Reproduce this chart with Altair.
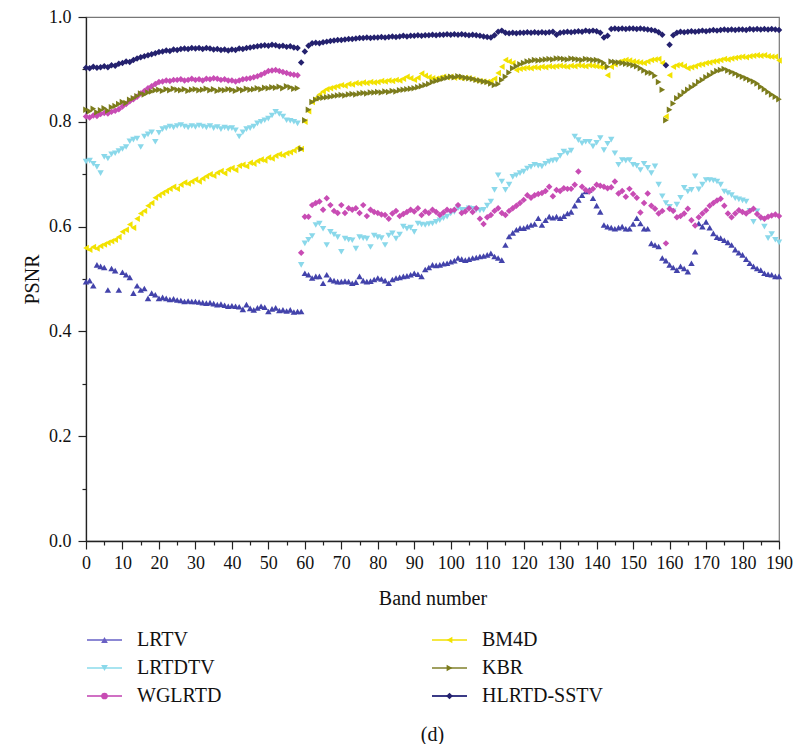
import altair as alt
import pandas as pd

bands = list(range(191))

LRTV = [
    .495, .497, .487, .527, .524, .522, .479, .520, .516, .479,
    .513, .508, .503, .473, .487, .479, .482, .463, .473, .470,
    .463, .465, .463, .461, .462, .460, .459, .457, .458, .457,
    .457, .456, .455, .454, .455, .453, .451, .452, .450, .448,
    .449, .448, .447, .442, .451, .444, .441, .445, .448, .446,
    .438, .443, .445, .440, .441, .439, .441, .437, .438, .438,
    .511, .508, .502, .505, .505, .492, .508, .499, .497, .495,
    .495, .496, .495, .492, .494, .505, .497, .495, .496, .499,
    .502, .500, .497, .492, .499, .502, .503, .505, .506, .508,
    .511, .509, .505, .518, .522, .527, .526, .527, .529, .530,
    .533, .535, .540, .538, .536, .538, .540, .541, .543, .544,
    .546, .549, .543, .540, .536, .565, .581, .588, .594, .597,
    .597, .600, .603, .605, .616, .603, .612, .619, .617, .619,
    .616, .620, .625, .628, .640, .651, .660, .667, .670, .654,
    .640, .628, .603, .600, .598, .596, .598, .600, .596, .596,
    .605, .616, .606, .596, .596, .568, .565, .562, .540, .535,
    .527, .522, .517, .524, .520, .514, .530, .552, .606, .600,
    .609, .598, .587, .580, .578, .574, .570, .565, .556, .550,
    .546, .538, .530, .524, .520, .517, .511, .509, .508, .505,
    .505,
]

LRTDTV = [
    .724, .726, .720, .714, .702, .733, .730, .738, .740, .744,
    .748, .752, .763, .766, .768, .752, .772, .776, .780, .762,
    .779, .786, .788, .791, .789, .792, .794, .791, .789, .792,
    .790, .793, .791, .789, .792, .788, .790, .786, .789, .787,
    .788, .784, .772, .780, .786, .788, .791, .797, .800, .803,
    .806, .812, .819, .815, .810, .803, .802, .800, .797, .527,
    .568, .575, .582, .603, .606, .596, .565, .590, .585, .580,
    .552, .577, .575, .574, .558, .580, .578, .577, .561, .583,
    .580, .578, .565, .583, .587, .577, .585, .600, .596, .598,
    .590, .606, .604, .603, .605, .606, .609, .612, .616, .619,
    .625, .628, .635, .632, .632, .635, .634, .632, .631, .632,
    .640, .648, .670, .698, .686, .670, .680, .695, .698, .702,
    .705, .711, .714, .718, .716, .715, .720, .724, .726, .727,
    .735, .743, .740, .745, .772, .765, .759, .762, .762, .753,
    .760, .769, .746, .758, .766, .740, .718, .727, .726, .727,
    .718, .716, .708, .720, .712, .702, .715, .680, .658, .645,
    .638, .629, .642, .655, .674, .667, .670, .696, .671, .680,
    .689, .689, .688, .686, .680, .667, .664, .660, .654, .652,
    .650, .648, .630, .609, .629, .615, .600, .578, .586, .575,
    .570,
]

WGLRTD = [
    .810, .808, .812, .811, .815, .817, .816, .819, .821, .824,
    .829, .834, .839, .843, .848, .854, .859, .864, .868, .872,
    .876, .877, .879, .878, .880, .880, .881, .879, .880, .882,
    .880, .881, .879, .882, .881, .883, .882, .880, .881, .879,
    .879, .877, .879, .881, .882, .883, .885, .887, .890, .893,
    .897, .898, .899, .897, .895, .893, .891, .890, .889, .550,
    .619, .619, .641, .645, .648, .632, .654, .641, .630, .626,
    .641, .626, .635, .632, .635, .626, .641, .620, .632, .628,
    .626, .623, .622, .615, .625, .630, .620, .624, .628, .632,
    .629, .635, .622, .629, .626, .632, .628, .622, .627, .632,
    .630, .632, .641, .626, .629, .635, .628, .635, .615, .605,
    .618, .622, .630, .635, .626, .622, .630, .635, .640, .645,
    .651, .660, .655, .660, .662, .664, .668, .676, .658, .670,
    .668, .673, .672, .672, .680, .705, .676, .670, .667, .672,
    .680, .678, .676, .673, .675, .686, .663, .668, .657, .672,
    .662, .655, .627, .645, .663, .640, .634, .625, .630, .568,
    .634, .630, .618, .620, .625, .634, .612, .602, .618, .625,
    .631, .640, .645, .650, .653, .640, .625, .618, .625, .631,
    .628, .625, .630, .634, .624, .618, .615, .619, .621, .623,
    .620,
]

BM4D = [
    .559, .556, .561, .558, .563, .566, .569, .572, .575, .580,
    .590, .594, .604, .598, .615, .625, .630, .640, .645, .655,
    .660, .664, .668, .672, .676, .672, .680, .684, .682, .686,
    .690, .686, .692, .696, .700, .697, .703, .706, .702, .709,
    .712, .708, .716, .718, .715, .722, .720, .725, .728, .726,
    .732, .730, .735, .738, .736, .740, .742, .745, .750, .748,
    .800, .820, .838, .845, .852, .858, .862, .864, .866, .868,
    .870, .869, .872, .871, .874, .873, .875, .874, .876, .875,
    .876, .878, .877, .879, .878, .880, .879, .882, .886, .883,
    .880, .884, .892, .888, .885, .883, .882, .884, .886, .885,
    .886, .884, .885, .883, .884, .883, .881, .879, .878, .877,
    .876, .878, .882, .893, .905, .918, .915, .912, .899, .901,
    .902, .903, .902, .904, .903, .905, .904, .906, .905, .906,
    .907, .906, .905, .907, .906, .908, .907, .906, .908, .907,
    .906, .905, .904, .889, .905, .910, .914, .916, .918, .917,
    .915, .914, .913, .912, .915, .918, .919, .920, .912, .810,
    .889, .905, .908, .909, .906, .902, .904, .906, .909, .910,
    .912, .913, .915, .916, .918, .920, .919, .921, .922, .923,
    .924, .923, .925, .926, .927, .926, .927, .925, .924, .924,
    .917,
]

KBR = [
    .823, .820, .825, .818, .822, .826, .821, .828, .830, .834,
    .838, .836, .842, .845, .849, .854, .852, .856, .858, .860,
    .861, .859, .862, .860, .863, .861, .860, .862, .859, .861,
    .862, .860, .861, .863, .860, .862, .859, .861, .860, .862,
    .861, .859, .862, .860, .863, .861, .862, .864, .862, .865,
    .864, .866, .865, .867, .864, .868, .866, .863, .864, .748,
    .803, .823, .838, .842, .845, .846, .847, .848, .849, .850,
    .851, .850, .852, .853, .852, .854, .855, .854, .856, .856,
    .857, .856, .858, .857, .859, .858, .860, .861, .862, .863,
    .864, .866, .868, .870, .872, .876, .878, .880, .882, .884,
    .886, .885, .887, .886, .884, .883, .882, .880, .879, .877,
    .876, .873, .870, .872, .880, .886, .894, .902, .906, .910,
    .912, .915, .916, .918, .917, .918, .919, .920, .919, .921,
    .921, .920, .919, .921, .920, .919, .918, .920, .919, .918,
    .918, .916, .912, .905, .915, .914, .913, .912, .911, .910,
    .908, .906, .902, .898, .894, .893, .888, .876, .861, .803,
    .823, .835, .845, .850, .856, .861, .866, .870, .876, .880,
    .885, .889, .893, .897, .899, .901, .898, .895, .892, .889,
    .886, .883, .880, .877, .873, .867, .862, .857, .852, .848,
    .843,
]

HLRTD_SSTV = [
    .903, .902, .905, .903, .904, .906, .904, .908, .907, .911,
    .912, .915, .914, .918, .921, .923, .925, .927, .929, .931,
    .933, .934, .936, .935, .938, .937, .939, .940, .939, .941,
    .940, .941, .939, .941, .940, .938, .939, .937, .938, .936,
    .938, .937, .940, .939, .941, .942, .943, .944, .945, .946,
    .945, .947, .946, .944, .945, .943, .944, .942, .941, .913,
    .934, .945, .950, .951, .950, .952, .953, .954, .955, .956,
    .956, .957, .958, .958, .959, .960, .960, .961, .960, .961,
    .961, .962, .961, .962, .963, .962, .963, .964, .963, .964,
    .964, .965, .964, .965, .965, .966, .965, .966, .966, .967,
    .966, .967, .966, .967, .966, .965, .966, .965, .964, .963,
    .962, .961, .965, .972, .974, .970, .969, .970, .969, .970,
    .970, .971, .970, .971, .970, .971, .970, .971, .972, .966,
    .970, .971, .972, .971, .972, .973, .972, .974, .973, .974,
    .973, .970, .961, .964, .977, .978, .977, .978, .977, .978,
    .978, .977, .978, .977, .976, .975, .974, .971, .966, .908,
    .947, .965, .970, .972, .971, .972, .973, .972, .973, .974,
    .973, .974, .975, .974, .975, .976, .975, .976, .975, .976,
    .976, .975, .977, .976, .977, .976, .977, .976, .977, .976,
    .975,
]

series_names = ["LRTV", "LRTDTV", "WGLRTD", "BM4D", "KBR", "HLRTD-SSTV"]
series_values = [LRTV, LRTDTV, WGLRTD, BM4D, KBR, HLRTD_SSTV]
colors = ["#4343ab", "#8ad8ea", "#c84cb4", "#f2e200", "#7c7c1c", "#24216e"]
legend_line_colors = ["#8c88d4", "#a8e4f0", "#d070c4", "#f5e840", "#a0a060", "#3a3a86"]
legend_marker_colors = ["#6a60c4", "#8ad8ea", "#c84cb4", "#f2e200", "#7c7c1c", "#24216e"]
shapes = ["triangle-up", "triangle-down", "diamond", "triangle-left", "triangle-right", "diamond"]
legend_shapes = ["triangle-up", "triangle-down", "circle", "triangle-left", "triangle-right", "diamond"]
marker_sizes = [42, 42, 34, 42, 42, 36]

x_ticks = list(range(0, 191, 10))
x_minor = list(range(5, 190, 10))
y_ticks = [0.0, 0.2, 0.4, 0.6, 0.8, 1.0]
y_minor = [0.1, 0.3, 0.5, 0.7, 0.9]

rows = []
for k, (name, vals) in enumerate(zip(series_names, series_values)):
    for b, v in zip(bands, vals):
        rows.append({"band": b, "value": v, "series": name, "idx": k * 1000 + b})
df = pd.DataFrame(rows)

FONT = "Liberation Serif, Times New Roman, serif"
W, H = 693, 524

xscale = alt.Scale(domain=[0, 190], nice=False, zero=False)
yscale = alt.Scale(domain=[0, 1], nice=False)

points = alt.Chart(df).mark_point(filled=True, opacity=1).encode(
    x=alt.X("band:Q", scale=xscale,
            axis=alt.Axis(values=x_ticks, orient="bottom", tickSize=8, labelPadding=5,
                          labelOverlap=False, labelFlush=False, title="Band number",
                          titleY=57, titleBaseline="middle", grid=False)),
    y=alt.Y("value:Q", scale=yscale,
            axis=alt.Axis(values=y_ticks, orient="left", format=".1f", tickSize=8,
                          labelPadding=7, title="PSNR", titleX=-54, titleY=H / 2,
                          titleAngle=-90, titleBaseline="middle", titleAlign="center",
                          grid=False)),
    color=alt.Color("series:N", scale=alt.Scale(domain=series_names, range=colors), legend=None),
    shape=alt.Shape("series:N", scale=alt.Scale(domain=series_names, range=shapes), legend=None),
    size=alt.Size("series:N", scale=alt.Scale(domain=series_names, range=marker_sizes), legend=None),
    order=alt.Order("idx:Q"),
)

minor = alt.Chart(df).mark_point(opacity=0).encode(
    x=alt.X("band:Q", scale=xscale,
            axis=alt.Axis(values=x_minor, labels=False, domain=False, tickSize=4,
                          title=None, orient="bottom", grid=False)),
    y=alt.Y("value:Q", scale=yscale,
            axis=alt.Axis(values=y_minor, labels=False, domain=False, tickSize=4,
                          title=None, orient="left", grid=False)),
)

one = alt.Data(values=[{"k": 1}])
legend_layers = []
for i, name in enumerate(series_names):
    col, row = i // 3, i % 3
    x0 = 1 + col * 345
    yy = 623 + row * 28
    legend_layers.append(
        alt.Chart(one).mark_rule(color=legend_line_colors[i], strokeWidth=2).encode(
            x=alt.value(x0), x2=alt.value(x0 + 35), y=alt.value(yy)))
    legend_layers.append(
        alt.Chart(one).mark_point(shape=legend_shapes[i], filled=True, size=45, opacity=1,
                                  color=legend_marker_colors[i]).encode(
            x=alt.value(x0 + 17.5), y=alt.value(yy)))
    legend_layers.append(
        alt.Chart(one).mark_text(text=name, align="left", baseline="middle", font=FONT,
                                 fontSize=20, color="#111").encode(
            x=alt.value(x0 + 50), y=alt.value(yy)))

caption = alt.Chart(one).mark_text(text="(d)", align="center", baseline="middle", font=FONT,
                                   fontSize=20, color="#111").encode(
    x=alt.value(W / 2), y=alt.value(718))

chart = alt.layer(minor, points, *legend_layers, caption).resolve_axis(
    x="independent", y="independent"
).properties(
    width=W, height=H,
    padding={"left": 86, "top": 17, "right": 14, "bottom": 203},
    autosize=alt.AutoSizeParams(type="none"),
).configure_view(
    stroke="#777", strokeWidth=1.2
).configure_axis(
    domainColor="#222", tickColor="#222", domainWidth=1.3, tickWidth=1.2,
    labelFont=FONT, labelFontSize=18, labelColor="#111",
    titleFont=FONT, titleFontSize=20, titleFontWeight="normal", titleColor="#111",
).configure_text(font=FONT)

chart.save("out.html", embed_options={"renderer": "svg", "actions": False})
